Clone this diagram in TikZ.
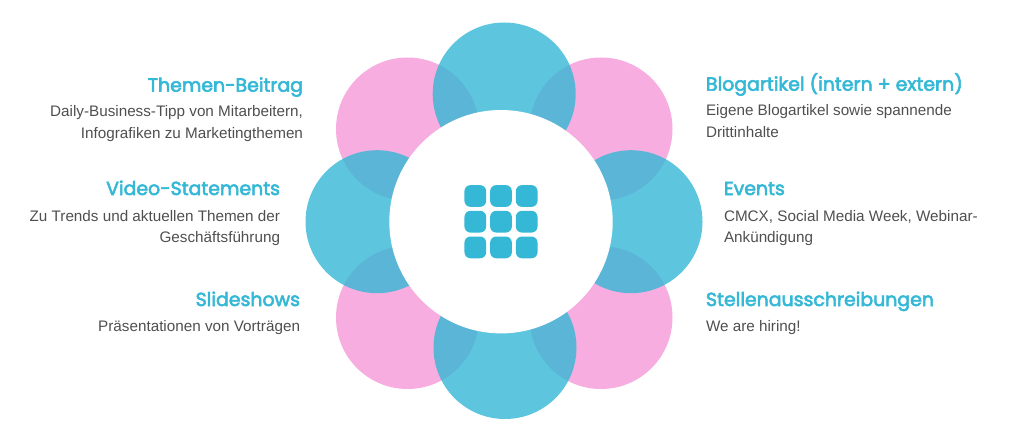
\documentclass[tikz,border=0pt]{standalone}
\usepackage{fontspec}
\setmainfont{Liberation Sans}
\newfontfamily\headfont[FakeBold=3]{Poppins}
\usetikzlibrary{positioning}
\definecolor{petalblue}{HTML}{35B8D6}
\definecolor{petalpink}{HTML}{F7ADDF}
\definecolor{bodygrey}{HTML}{4F4F4F}
\begin{document}
\begin{tikzpicture}[
        x=1pt, y=-1pt,
        every node/.style={inner sep=0pt, outer sep=0pt}
    ]
    \useasboundingbox (0,0) rectangle (1024,425);

    \tikzstyle{pink} = [
        circle,
        minimum size = 143pt,
        fill = petalpink
    ]
    \tikzstyle{blue} = [
        circle,
        minimum size = 143pt,
        fill = petalblue,
        fill opacity = 0.8
    ]
    \tikzstyle{tile} = [
        rectangle,
        rounded corners = 6pt,
        minimum size = 21.7pt,
        fill = petalblue
    ]
    \tikzstyle{head} = [
        text = petalblue,
        text height = 12pt,
        text depth = 4pt,
        font = \headfont\fontsize{18.9}{21}\selectfont
    ]
    \tikzstyle{leftbody} = [
        anchor = north east,
        align = right,
        text = bodygrey,
        font = \fontsize{15.25}{21.3}\selectfont
    ]
    \tikzstyle{rightbody} = [
        anchor = north west,
        align = left,
        text = bodygrey,
        font = \fontsize{15.25}{21.3}\selectfont
    ]

    % pink petals
    \node [pink] (pinkNW) at (407.5,129) {};
    \node [pink] (pinkNE) at (601,129) {};
    \node [pink] (pinkSW) at (407.5,317.5) {};
    \node [pink] (pinkSE) at (601,317.5) {};

    % blue petals
    \node [blue] (blueN) at (504.2,94) {};
    \node [blue] (blueS) at (505,347.5) {};
    \node [blue] (blueW) at (377,221.7) {};
    \node [blue] (blueE) at (631,221.7) {};

    \node [circle, minimum size = 223.4pt, fill = white] (hub) at (501,221.7) {};

    % icon in the middle
    \node [tile] (tileC) at (hub) {};
    \node [tile, left=4pt of tileC] (tileW) {};
    \node [tile, right=4pt of tileC] (tileE) {};
    \node [tile, above=4pt of tileC] (tileN) {};
    \node [tile, below=4pt of tileC] (tileS) {};
    \node [tile, above=4pt of tileW] (tileNW) {};
    \node [tile, above=4pt of tileE] (tileNE) {};
    \node [tile, below=4pt of tileW] (tileSW) {};
    \node [tile, below=4pt of tileE] (tileSE) {};

    % left column
    \node [head, anchor=base east] (themen) at (303,91.7) {Themen-Beitrag};
    \node [leftbody, below=10pt of themen.south east, anchor=north east] (themenText)
        {Daily-Business-Tipp von Mitarbeitern,\\Infografiken zu Marketingthemen};
    \node [head, anchor=base east] (video) at (280,195) {Video-Statements};
    \node [leftbody, below=11pt of video.south east, anchor=north east] (videoText)
        {Zu Trends und aktuellen Themen der\\Geschäftsführung};
    \node [head, anchor=base east] (slides) at (300,306) {Slideshows};
    \node [leftbody, below=10.5pt of slides.south east, anchor=north east] (slidesText)
        {Präsentationen von Vorträgen};

    % right column
    \node [head, anchor=base west] (blog) at (706,90.7) {Blogartikel (intern + extern)};
    \node [rightbody, below=10pt of blog.south west, anchor=north west] (blogText)
        {Eigene Blogartikel sowie spannende\\Drittinhalte};
    \node [head, anchor=base west] (events) at (724,195) {Events};
    \node [rightbody, below=11pt of events.south west, anchor=north west] (eventsText)
        {CMCX, Social Media Week, Webinar-\\Ankündigung};
    \node [head, anchor=base west] (jobs) at (706,306) {Stellenausschreibungen};
    \node [rightbody, below=10.5pt of jobs.south west, anchor=north west] (jobsText)
        {We are hiring!};
\end{tikzpicture}
\end{document}
